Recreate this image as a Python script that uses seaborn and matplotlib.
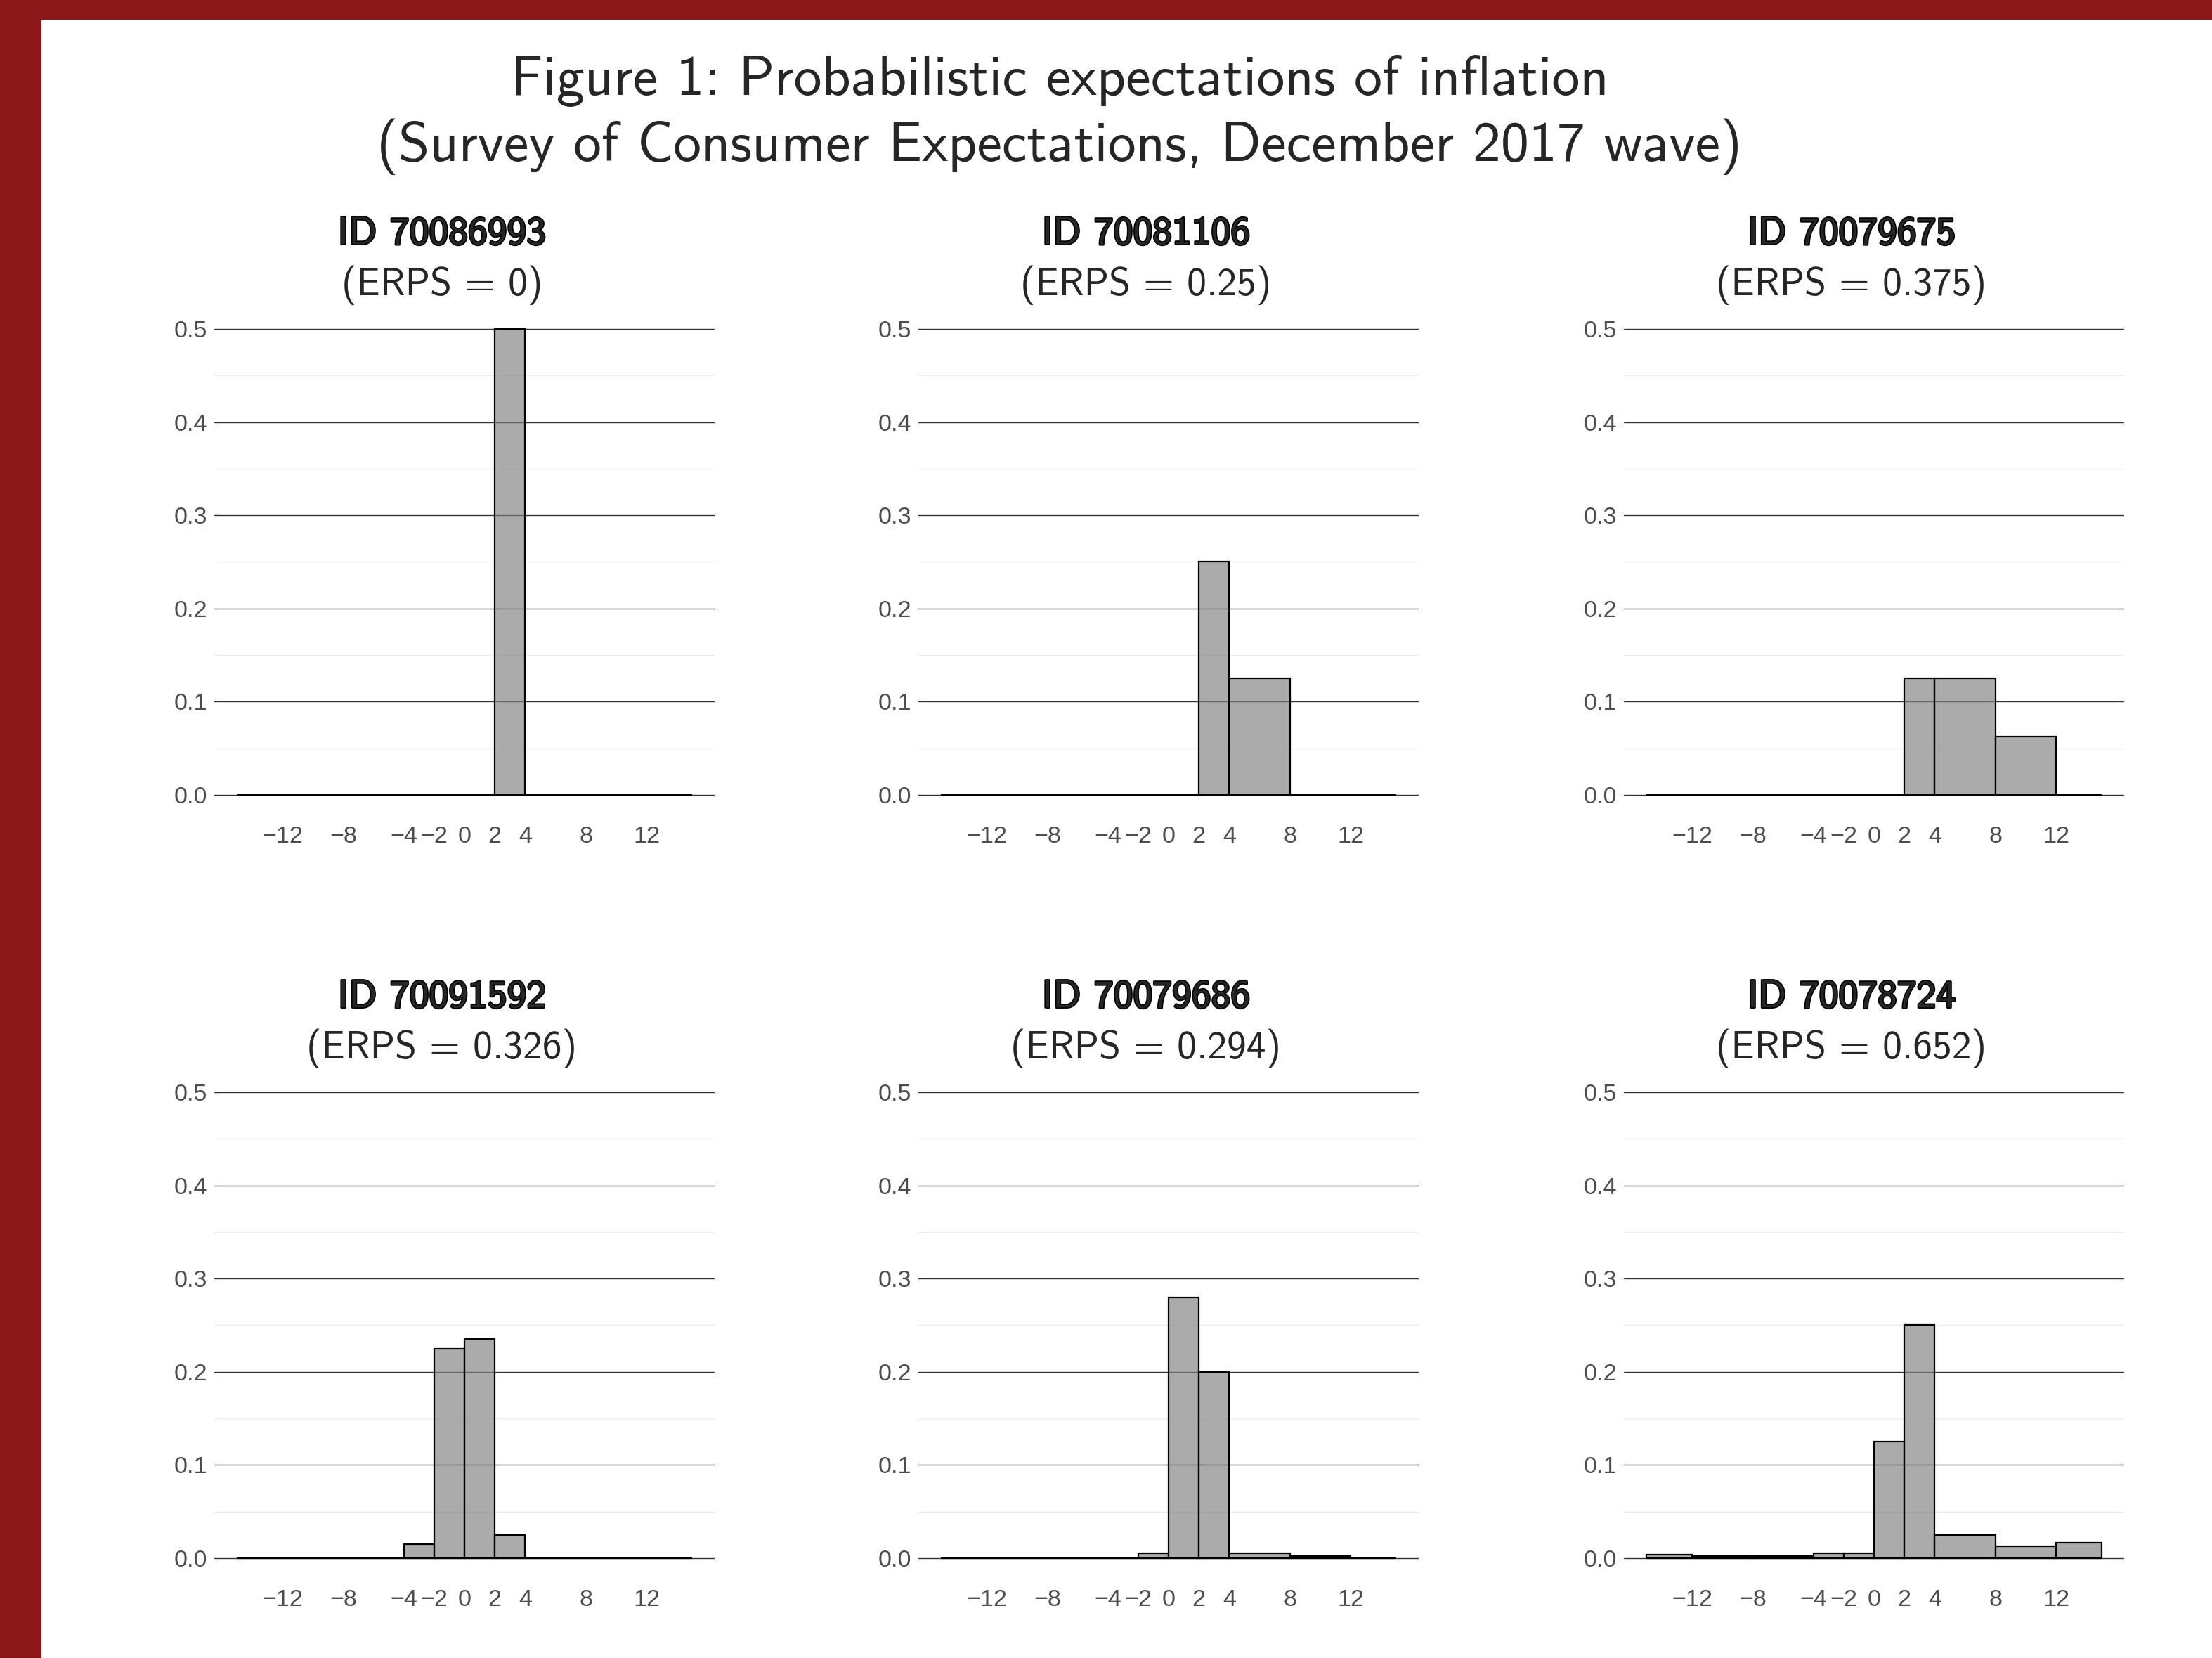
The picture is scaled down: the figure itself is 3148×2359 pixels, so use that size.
import numpy as np
import pandas as pd
import matplotlib
matplotlib.use("Agg")
import matplotlib.pyplot as plt
import matplotlib.patheffects as pe
from matplotlib.patches import Rectangle
from matplotlib.ticker import FixedLocator, MultipleLocator
import seaborn as sns

# Inflation outcome bins of the density question (percent)
bin_edges = [-15, -12, -8, -4, -2, 0, 2, 4, 8, 12, 15]
x_ticks = [-12, -8, -4, -2, 0, 2, 4, 8, 12]
x_tick_labels = ["\u221212", "\u22128", "\u22124", "\u22122", "0", "2", "4", "8", "12"]
y_ticks = [0.0, 0.1, 0.2, 0.3, 0.4, 0.5]
y_tick_labels = ["0.0", "0.1", "0.2", "0.3", "0.4", "0.5"]

# Respondents and their ERPS scores
respondent_ids = ["70086993", "70081106", "70079675", "70091592", "70079686", "70078724"]
erps_scores = ["0", "0.25", "0.375", "0.326", "0.294", "0.652"]

# Percent chance assigned to each bin, one list per respondent
pct_70086993 = [0, 0, 0, 0, 0, 0, 100, 0, 0, 0]
pct_70081106 = [0, 0, 0, 0, 0, 0, 50, 50, 0, 0]
pct_70079675 = [0, 0, 0, 0, 0, 0, 25, 50, 25, 0]
pct_70091592 = [0, 0, 0, 3, 45, 47, 5, 0, 0, 0]
pct_70079686 = [0, 0, 0, 0, 1, 56, 40, 2, 1, 0]
pct_70078724 = [1, 1, 1, 1, 1, 25, 50, 10, 5, 5]
responses = [pct_70086993, pct_70081106, pct_70079675,
             pct_70091592, pct_70079686, pct_70078724]

mids = [(a + b) / 2 for a, b in zip(bin_edges[:-1], bin_edges[1:])]
frames = []
for rid, pct in zip(respondent_ids, responses):
    frames.append(pd.DataFrame({"id": rid, "outcome": mids, "pct": pct}))
df = pd.concat(frames, ignore_index=True)

sns.set_theme(style="white")
plt.rcParams["font.family"] = ["Liberation Sans", "DejaVu Sans"]

W, H, DPI = 3148, 2359, 200
fig = plt.figure(figsize=(W / DPI, H / DPI), dpi=DPI)
fig.patch.set_facecolor("#8B1718")
fig.add_artist(Rectangle((59 / W, 0), 1, 1 - 28 / H, transform=fig.transFigure,
                         facecolor="white", edgecolor="none", zorder=-10))

title_font = ["cmss10", "DejaVu Sans"]
fig.text(0.479, 1 - 115 / H, "Figure 1: Probabilistic expectations of inflation",
         ha="center", va="center", fontsize=28.8, family=title_font)
fig.text(0.479, 1 - 209 / H, "(Survey of Consumer Expectations, December 2017 wave)",
         ha="center", va="center", fontsize=28.8, family=title_font)

col_left = [305, 1307, 2311]
row_top = [435, 1521]
pw, ph = 712, 729

for k, (rid, score) in enumerate(zip(respondent_ids, erps_scores)):
    r, c = divmod(k, 3)
    left = col_left[c] / W
    bottom = 1 - (row_top[r] + ph) / H
    ax = fig.add_axes([left, bottom, pw / W, ph / H])
    sub = df[df["id"] == rid]
    sns.histplot(data=sub, x="outcome", weights="pct", bins=bin_edges,
                 stat="density", ax=ax, color="#808080", alpha=0.66,
                 edgecolor="black", linewidth=0.8)
    ax.set_xlim(-16.5, 16.5)
    ax.set_ylim(-0.025, 0.525)
    ax.xaxis.set_major_locator(FixedLocator(x_ticks))
    ax.set_xticklabels(x_tick_labels)
    ax.yaxis.set_major_locator(FixedLocator(y_ticks))
    ax.set_yticklabels(y_tick_labels)
    ax.yaxis.set_minor_locator(MultipleLocator(0.05))
    ax.set_axisbelow(True)
    ax.grid(False)
    ax.grid(axis="y", which="major", color="#333333", linewidth=0.5)
    ax.grid(axis="y", which="minor", color="#ebebeb", linewidth=0.5)
    ax.tick_params(axis="both", which="both", length=0, labelsize=12.3,
                   labelcolor="#4D4D4D")
    ax.tick_params(axis="y", pad=3.5)
    ax.tick_params(axis="x", pad=4)
    ax.set_xlabel("")
    ax.set_ylabel("")
    for s in ax.spines.values():
        s.set_visible(False)
    ax.set_facecolor("none")
    ax.text(0.455, 1.1395, f"ID {rid}", transform=ax.transAxes, ha="center",
            va="center", fontsize=20, family=title_font,
            path_effects=[pe.withStroke(linewidth=1.2, foreground="black")])
    ax.text(0.455, 1.0395, f"(ERPS = {score})", transform=ax.transAxes,
            ha="center", va="center", fontsize=20, family=title_font)

fig.savefig("out.png", dpi=DPI, facecolor=fig.get_facecolor())
